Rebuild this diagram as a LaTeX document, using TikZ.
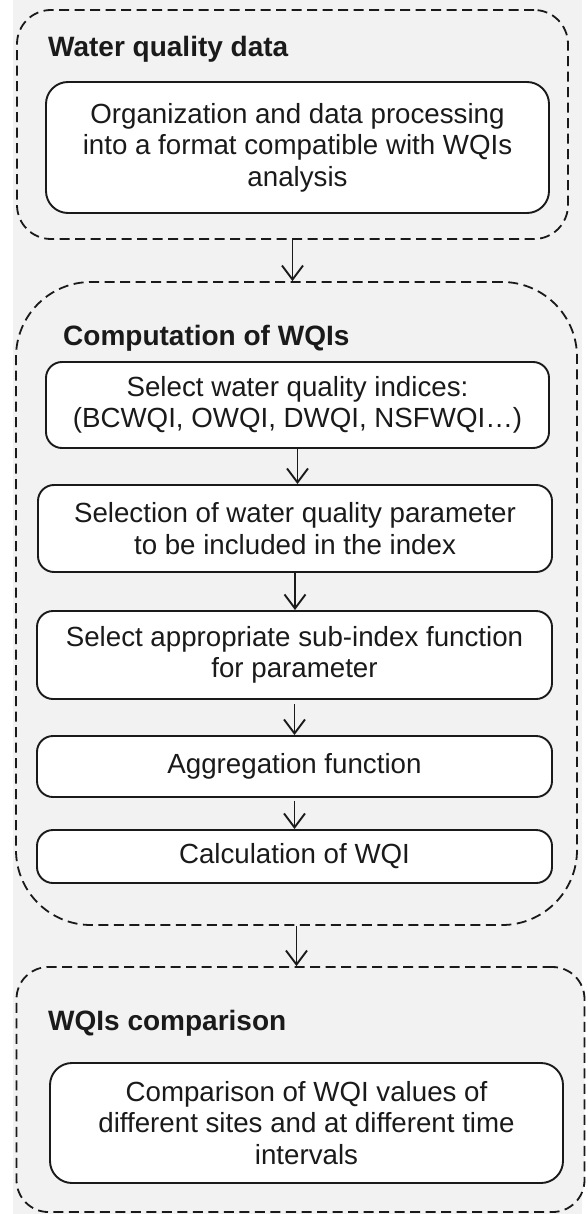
\documentclass[tikz,border=0pt]{standalone}
\usepackage{fontspec}
\setmainfont{Liberation Sans}
\usetikzlibrary{arrows.meta}
\definecolor{boxgray}{HTML}{F2F2F2}
\definecolor{ink}{HTML}{1A1A1A}
\tikzset{
  outerbox/.style={draw=ink, fill=boxgray, line width=1.8pt, dash pattern=on 10pt off 5.5pt, inner sep=0pt},
  innerbox/.style={draw=ink, fill=white, line width=1.9pt, rounded corners=16pt, inner sep=0pt, align=center,
     text=ink, font=\fontsize{27.7}{31.5}\selectfont},
  titletext/.style={anchor=base west, inner sep=0pt, text=ink, font=\bfseries\fontsize{28}{32}\selectfont},
  flow/.style={draw=ink, line width=1.9pt, -{Straight Barb[length=14pt,width=21pt,line width=1.9pt]}}
}
\begin{document}
\begin{tikzpicture}[x=1pt,y=-1pt]
\useasboundingbox (0,0) rectangle (587,1214);
\fill[boxgray] (13,0) rectangle (582,1214);
% outer dashed groups
\node[outerbox, rounded corners=34pt, minimum width=551pt, minimum height=229pt] (g1) at (292.5,124.5) {};
\node[outerbox, rounded corners=75pt, minimum width=561pt, minimum height=643pt] (g2) at (296.5,603.5) {};
\node[outerbox, rounded corners=32pt, minimum width=568pt, minimum height=245pt] (g3) at (300.5,1089.5) {};
% titles
\node[titletext] (t1) at (48,57) {Water quality data};
\node[titletext] (t2) at (63,345) {Computation of WQIs};
\node[titletext] (t3) at (48,1030) {WQIs comparison};
% inner boxes
\node[innerbox, rounded corners=22pt, minimum width=503pt, minimum height=131pt] (a1) at (297.5,147.5)
  {Organization and data processing\\into a format compatible with WQIs\\analysis};
\node[innerbox, minimum width=503pt, minimum height=86pt] (b1) at (297.5,405)
  {Select water quality indices:\\(BCWQI, OWQI, DWQI, NSFWQI…)};
\node[innerbox, minimum width=514pt, minimum height=87pt] (b2) at (295,528.5)
  {Selection of water quality parameter\\to be included in the index};
\node[innerbox, minimum width=515pt, minimum height=88pt] (b3) at (294.5,655)
  {Select appropriate sub-index function\\for parameter};
\node[innerbox, minimum width=515pt, minimum height=61pt] (b4) at (294.5,766.5)
  {Aggregation function};
\node[innerbox, minimum width=515pt, minimum height=53pt] (b5) at (294.5,856.5)
  {Calculation of WQI};
\node[innerbox, rounded corners=22pt, minimum width=513pt, minimum height=120pt] (c1) at (306.5,1123)
  {Comparison of WQI values of\\different sites and at different time\\intervals};
% connectors
\draw[flow] (g1.south) -- (g1.south |- g2.north);
\draw[flow] (b1.south) -- (b1.south |- b2.north);
\draw[flow] (b2.south) -- (b2.south |- b3.north);
\draw[flow] ([yshift=-4pt]b3.south) -- (b3.south |- b4.north);
\draw[flow] ([yshift=-3pt]b4.south) -- (b4.south |- b5.north);
\draw[flow] (g2.south) -- (g2.south |- g3.north);
\end{tikzpicture}
\end{document}
